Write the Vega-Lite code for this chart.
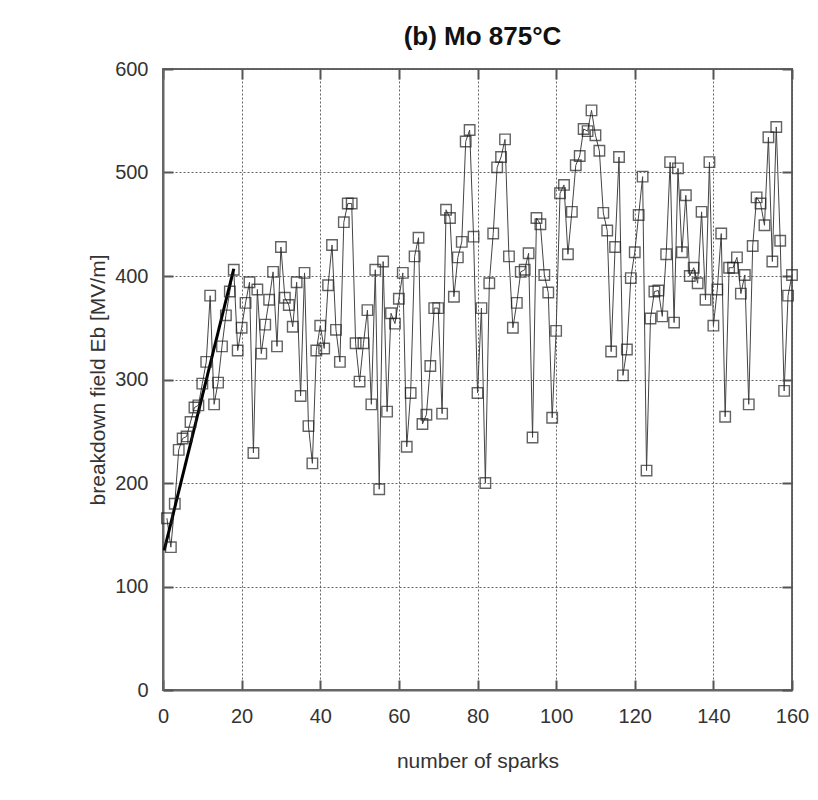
{
  "$schema": "https://vega.github.io/schema/vega-lite/v6.json",
  "width": 629,
  "height": 621,
  "autosize": {"type": "none"},
  "padding": {"left": 163, "top": 69, "right": 26, "bottom": 110},
  "background": "white",
  "title": {"text": "(b) Mo 875°C", "fontSize": 26, "font": "Liberation Sans, Arial, sans-serif", "fontWeight": "bold", "offset": 9, "anchor": "middle", "frame": "group", "color": "#111", "dx": 5},
  "config": {
    "view": {"stroke": "#666", "strokeWidth": 2},
    "axis": {
      "labelFont": "Liberation Sans, Arial, sans-serif",
      "titleFont": "Liberation Sans, Arial, sans-serif",
      "labelFontSize": 20,
      "titleFontSize": 21,
      "titleFontWeight": "normal",
      "labelColor": "#333",
      "titleColor": "#333",
      "gridColor": "#555",
      "gridDash": [2, 2],
      "gridWidth": 1,
      "gridOpacity": 0.9,
      "domainColor": "#666",
      "domainWidth": 2,
      "tickColor": "#555",
      "tickWidth": 2,
      "tickSize": -10
    }
  },
  "datasets": {
    "sparks": [
      {"n":1,"E":166},{"n":2,"E":138},{"n":3,"E":180},{"n":4,"E":232},{"n":5,"E":243},{"n":6,"E":245},{"n":7,"E":259},{"n":8,"E":273},{"n":9,"E":275},{"n":10,"E":296},
      {"n":11,"E":317},{"n":12,"E":381},{"n":13,"E":276},{"n":14,"E":297},{"n":15,"E":332},{"n":16,"E":362},{"n":17,"E":385},{"n":18,"E":406},{"n":19,"E":328},{"n":20,"E":350},
      {"n":21,"E":374},{"n":22,"E":394},{"n":23,"E":229},{"n":24,"E":387},{"n":25,"E":325},{"n":26,"E":353},{"n":27,"E":377},{"n":28,"E":404},{"n":29,"E":332},{"n":30,"E":428},
      {"n":31,"E":379},{"n":32,"E":372},{"n":33,"E":351},{"n":34,"E":394},{"n":35,"E":284},{"n":36,"E":403},{"n":37,"E":255},{"n":38,"E":219},{"n":39,"E":328},{"n":40,"E":352},
      {"n":41,"E":330},{"n":42,"E":391},{"n":43,"E":430},{"n":44,"E":348},{"n":45,"E":317},{"n":46,"E":452},{"n":47,"E":470},{"n":48,"E":470},{"n":49,"E":335},{"n":50,"E":298},
      {"n":51,"E":335},{"n":52,"E":367},{"n":53,"E":276},{"n":54,"E":406},{"n":55,"E":194},{"n":56,"E":414},{"n":57,"E":269},{"n":58,"E":364},{"n":59,"E":354},{"n":60,"E":378},
      {"n":61,"E":403},{"n":62,"E":235},{"n":63,"E":287},{"n":64,"E":419},{"n":65,"E":437},{"n":66,"E":257},{"n":67,"E":266},{"n":68,"E":313},{"n":69,"E":369},{"n":70,"E":369},
      {"n":71,"E":267},{"n":72,"E":464},{"n":73,"E":456},{"n":74,"E":380},{"n":75,"E":418},{"n":76,"E":433},{"n":77,"E":530},{"n":78,"E":541},{"n":79,"E":438},{"n":80,"E":287},
      {"n":81,"E":369},{"n":82,"E":200},{"n":83,"E":393},{"n":84,"E":441},{"n":85,"E":505},{"n":86,"E":515},{"n":87,"E":532},{"n":88,"E":419},{"n":89,"E":350},{"n":90,"E":374},
      {"n":91,"E":404},{"n":92,"E":406},{"n":93,"E":422},{"n":94,"E":244},{"n":95,"E":456},{"n":96,"E":450},{"n":97,"E":401},{"n":98,"E":384},{"n":99,"E":263},{"n":100,"E":347},
      {"n":101,"E":480},{"n":102,"E":488},{"n":103,"E":421},{"n":104,"E":462},{"n":105,"E":507},{"n":106,"E":516},{"n":107,"E":542},{"n":108,"E":540},{"n":109,"E":560},{"n":110,"E":536},
      {"n":111,"E":521},{"n":112,"E":461},{"n":113,"E":444},{"n":114,"E":327},{"n":115,"E":428},{"n":116,"E":515},{"n":117,"E":304},{"n":118,"E":329},{"n":119,"E":398},{"n":120,"E":423},
      {"n":121,"E":459},{"n":122,"E":496},{"n":123,"E":212},{"n":124,"E":359},{"n":125,"E":385},{"n":126,"E":386},{"n":127,"E":361},{"n":128,"E":421},{"n":129,"E":510},{"n":130,"E":355},
      {"n":131,"E":504},{"n":132,"E":423},{"n":133,"E":478},{"n":134,"E":400},{"n":135,"E":408},{"n":136,"E":393},{"n":137,"E":462},{"n":138,"E":377},{"n":139,"E":510},{"n":140,"E":352},
      {"n":141,"E":387},{"n":142,"E":441},{"n":143,"E":264},{"n":144,"E":408},{"n":145,"E":408},{"n":146,"E":418},{"n":147,"E":383},{"n":148,"E":401},{"n":149,"E":276},{"n":150,"E":429},
      {"n":151,"E":476},{"n":152,"E":470},{"n":153,"E":449},{"n":154,"E":534},{"n":155,"E":414},{"n":156,"E":544},{"n":157,"E":434},{"n":158,"E":289},{"n":159,"E":381},{"n":160,"E":401}
    ],
    "fit": [{"n": 0.3, "E": 135}, {"n": 18, "E": 407}]
  },
  "layer": [
    {
      "data": {"name": "sparks"},
      "mark": {"type": "line", "color": "#444", "strokeWidth": 1},
      "encoding": {
        "x": {"field": "n", "type": "quantitative", "scale": {"domain": [0, 160], "nice": false, "zero": false},
              "axis": {"values": [0,20,40,60,80,100,120,140,160], "title": "number of sparks", "labelPadding": 26, "titlePadding": 24, "labelFlush": false}},
        "y": {"field": "E", "type": "quantitative", "scale": {"domain": [0, 600], "nice": false},
              "axis": {"values": [0,100,200,300,400,500,600], "title": "breakdown field Eb [MV/m]", "labelPadding": 25, "titlePadding": 6}}
      }
    },
    {
      "data": {"name": "fit"},
      "mark": {"type": "line", "color": "#000", "strokeWidth": 3},
      "encoding": {
        "x": {"field": "n", "type": "quantitative", "axis": null},
        "y": {"field": "E", "type": "quantitative", "axis": null}
      }
    },
    {
      "data": {"name": "sparks"},
      "mark": {"type": "point", "shape": "square", "size": 110, "filled": false, "color": "#222", "strokeWidth": 1.4},
      "encoding": {
        "x": {"field": "n", "type": "quantitative", "axis": {"orient": "top", "values": [0,20,40,60,80,100,120,140,160], "labels": false, "grid": false, "title": null, "domain": false}},
        "y": {"field": "E", "type": "quantitative", "axis": {"orient": "right", "values": [0,100,200,300,400,500,600], "labels": false, "grid": false, "title": null, "domain": false}}
      }
    }
  ],
  "resolve": {"axis": {"x": "independent", "y": "independent"}}
}
